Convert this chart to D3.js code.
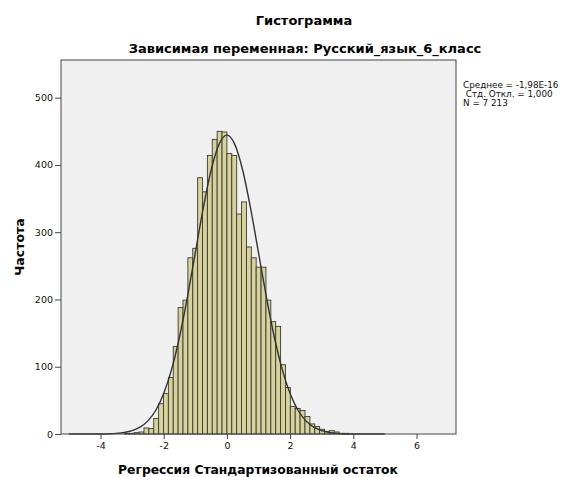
<!DOCTYPE html>
<html>
<head>
<meta charset="utf-8">
<script src="https://cdn.jsdelivr.net/npm/d3@7"></script>
<style>
  body { margin: 0; background: #fff; }
  svg { display: block; font-family: "DejaVu Sans", sans-serif; }
</style>
</head>
<body>
<svg></svg>
<script>
// histogram bins: first lower edge and width (units of the residual)
const binStart = -3.242;
const binWidth = 0.1544;
const counts = [1, 1, 2, 3, 9, 8, 23, 45, 60, 84, 130, 188, 199, 262, 276, 381, 360, 414, 438, 450, 449,
                417, 414, 327, 345, 278, 262, 248, 248, 199, 167, 160, 103, 69, 41, 38, 35, 26, 15, 11, 7, 4, 5, 3, 1, 1];

// normal curve (x, frequency)
const curveX = [-5, -4.5, -4, -3.75, -3.5, -3.25, -3, -2.75, -2.5, -2.25, -2, -1.75, -1.5, -1.25, -1, -0.75, -0.5, -0.25,
                0, 0.25, 0.5, 0.75, 1, 1.25, 1.5, 1.75, 2, 2.25, 2.5, 2.75, 3, 3.25, 3.5, 3.75, 4, 4.5, 5];
const curveY = [0, 0, 0.1, 0.4, 1, 2.3, 4.9, 10.1, 19.5, 35.3, 60.1, 96.1, 144.2, 203.4, 269.5, 335.4, 392.1, 430.6,
                444.3, 430.6, 392.1, 335.4, 269.5, 203.4, 144.2, 96.1, 60.1, 35.3, 19.5, 10.1, 4.9, 2.3, 1, 0.4, 0.1, 0, 0];

const xTicks = [-4, -2, 0, 2, 4, 6];
const yTicks = [0, 100, 200, 300, 400, 500];
const statsLines = ["Среднее = -1,98E-16", " Стд. Откл. = 1,000", "N = 7 213"];

const svgWidth = 581, svgHeight = 477;
const plot = { left: 61, right: 456, top: 60, bottom: 434 };

const svg = d3.select("svg")
    .attr("width", svgWidth)
    .attr("height", svgHeight);

const x = d3.scaleLinear().domain([-5.25, 7.25]).range([plot.left, plot.right]);
const y = d3.scaleLinear().domain([0, 556]).range([plot.bottom, plot.top]);

// plot background
svg.append("rect")
    .attr("x", plot.left)
    .attr("y", plot.top)
    .attr("width", plot.right - plot.left)
    .attr("height", plot.bottom - plot.top)
    .attr("fill", "#f0f0f0");

const bins = counts.map((c, i) => ({
    x0: binStart + i * binWidth,
    x1: binStart + (i + 1) * binWidth,
    value: c
}));

svg.append("g")
    .selectAll("rect")
    .data(bins)
    .join("rect")
    .attr("x", d => x(d.x0))
    .attr("y", d => y(d.value))
    .attr("width", d => x(d.x1) - x(d.x0))
    .attr("height", d => y(0) - y(d.value))
    .attr("fill", "#d6d29a")
    .attr("stroke", "#3a3a3a")
    .attr("stroke-width", 0.9);

const line = d3.line()
    .x(d => x(d[0]))
    .y(d => y(d[1]))
    .curve(d3.curveMonotoneX);

svg.append("path")
    .datum(curveX.map((v, i) => [v, curveY[i]]))
    .attr("fill", "none")
    .attr("stroke", "#333")
    .attr("stroke-width", 1.4)
    .attr("d", line);

// frame
svg.append("rect")
    .attr("x", plot.left)
    .attr("y", plot.top)
    .attr("width", plot.right - plot.left)
    .attr("height", plot.bottom - plot.top)
    .attr("fill", "none")
    .attr("stroke", "#444")
    .attr("stroke-width", 1);

const xAxis = svg.append("g")
    .attr("transform", "translate(0," + plot.bottom + ")")
    .call(d3.axisBottom(x).tickValues(xTicks).tickSize(5).tickPadding(3).tickFormat(d => d < 0 ? "-" + (-d) : d));
xAxis.select(".domain").remove();

const yAxis = svg.append("g")
    .attr("transform", "translate(" + plot.left + ",0)")
    .call(d3.axisLeft(y).tickValues(yTicks).tickSize(6).tickPadding(2));
yAxis.select(".domain").remove();

svg.selectAll(".tick line").attr("stroke", "#444");
svg.selectAll(".tick text")
    .attr("font-family", "DejaVu Sans, sans-serif")
    .attr("font-size", 9.5)
    .attr("fill", "#111");

svg.append("text")
    .attr("x", 304).attr("y", 25)
    .attr("text-anchor", "middle")
    .attr("font-weight", "bold")
    .attr("font-size", 13)
    .text("Гистограмма");

svg.append("text")
    .attr("x", 305).attr("y", 53)
    .attr("text-anchor", "middle")
    .attr("font-weight", "bold")
    .attr("font-size", 13)
    .text("Зависимая переменная: Русский_язык_6_класс");

svg.append("text")
    .attr("x", 258).attr("y", 474)
    .attr("text-anchor", "middle")
    .attr("font-weight", "bold")
    .attr("font-size", 12.3)
    .text("Регрессия Стандартизованный остаток");

svg.append("text")
    .attr("transform", "translate(24,247) rotate(-90)")
    .attr("text-anchor", "middle")
    .attr("font-weight", "bold")
    .attr("font-size", 12.5)
    .text("Частота");

svg.append("g")
    .selectAll("text")
    .data(statsLines)
    .join("text")
    .attr("x", 463)
    .attr("y", (d, i) => 88 + i * 9)
    .attr("font-size", 8.8)
    .attr("fill", "#111")
    .attr("xml:space", "preserve")
    .style("white-space", "pre")
    .text(d => d);
</script>
</body>
</html>
